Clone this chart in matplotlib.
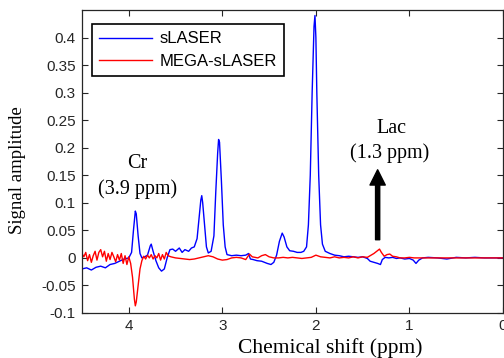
import matplotlib
matplotlib.use("Agg")
import matplotlib.pyplot as plt

# ---- data ----
blue_ppm = [4.50, 4.45, 4.40, 4.35, 4.30, 4.25, 4.20, 4.15, 4.10, 4.05, 4.00, 3.97, 3.95, 3.93, 3.92,
            3.90, 3.88, 3.86, 3.83, 3.80, 3.77, 3.76, 3.74, 3.71, 3.68, 3.65, 3.62, 3.59, 3.56, 3.53,
            3.50, 3.46, 3.43, 3.40, 3.36, 3.33, 3.30, 3.27, 3.25, 3.23, 3.22, 3.21, 3.19, 3.17, 3.15,
            3.12, 3.09, 3.07, 3.05, 3.04, 3.03, 3.01, 2.99, 2.97, 2.95, 2.90, 2.85, 2.80, 2.75, 2.72,
            2.70, 2.67, 2.63, 2.58, 2.52, 2.48, 2.45, 2.42, 2.39, 2.36, 2.34, 2.31, 2.28, 2.24, 2.20,
            2.16, 2.13, 2.10, 2.08, 2.06, 2.04, 2.02, 2.01, 2.00, 1.99, 1.97, 1.95, 1.93, 1.90, 1.85,
            1.80, 1.75, 1.70, 1.65, 1.60, 1.55, 1.50, 1.45, 1.42, 1.38, 1.34, 1.31, 1.29, 1.26, 1.22,
            1.18, 1.14, 1.10, 1.05, 1.00, 0.96, 0.93, 0.90, 0.86, 0.80, 0.70, 0.60, 0.50, 0.40, 0.30,
            0.20, 0.10, 0.00]
blue_val = [-0.020, -0.018, -0.022, -0.017, -0.015, -0.018, -0.012, -0.010, -0.006, -0.002, 0.000, 0.010, 0.050, 0.085, 0.080,
            0.040, 0.008, 0.000, 0.002, 0.005, 0.022, 0.025, 0.012, -0.005, -0.018, -0.024, -0.020, 0.000, 0.015, 0.016,
            0.012, 0.018, 0.010, 0.015, 0.012, 0.018, 0.020, 0.035, 0.070, 0.105, 0.113, 0.100, 0.060, 0.020, 0.009,
            0.012, 0.040, 0.120, 0.190, 0.215, 0.210, 0.140, 0.060, 0.020, 0.006, 0.004, 0.005, 0.004, 0.005, 0.008,
            -0.002, -0.003, -0.005, -0.006, -0.010, -0.012, -0.008, 0.005, 0.030, 0.045, 0.038, 0.020, 0.013, 0.012, 0.010,
            0.010, 0.012, 0.020, 0.060, 0.150, 0.300, 0.420, 0.440, 0.400, 0.300, 0.150, 0.060, 0.025, 0.012, 0.008,
            0.005, 0.004, 0.002, 0.003, 0.002, 0.001, 0.002, -0.001, -0.006, -0.008, -0.010, -0.012, -0.003, 0.001, 0.000,
            0.001, -0.001, 0.000, -0.002, -0.001, -0.004, -0.010, -0.004, 0.000, 0.001, 0.000, -0.002, 0.001, 0.000, 0.001,
            0.000, 0.000, 0.000]

red_ppm = [4.50, 4.48, 4.46, 4.44, 4.42, 4.40, 4.38, 4.36, 4.34, 4.32, 4.30, 4.28, 4.26, 4.24, 4.22,
           4.20, 4.18, 4.16, 4.14, 4.12, 4.10, 4.08, 4.06, 4.04, 4.02, 4.00, 3.98, 3.96, 3.94, 3.93,
           3.92, 3.90, 3.88, 3.86, 3.84, 3.82, 3.80, 3.78, 3.76, 3.74, 3.72, 3.70, 3.68, 3.66, 3.64,
           3.62, 3.60, 3.58, 3.55, 3.50, 3.45, 3.40, 3.35, 3.30, 3.25, 3.20, 3.15, 3.10, 3.05, 3.00,
           2.95, 2.90, 2.85, 2.80, 2.75, 2.71, 2.68, 2.62, 2.58, 2.54, 2.50, 2.45, 2.40, 2.35, 2.30,
           2.25, 2.20, 2.15, 2.10, 2.05, 2.00, 1.95, 1.90, 1.85, 1.80, 1.75, 1.70, 1.65, 1.60, 1.55,
           1.50, 1.45, 1.42, 1.38, 1.35, 1.32, 1.30, 1.27, 1.24, 1.21, 1.18, 1.14, 1.10, 1.05, 1.00,
           0.95, 0.90, 0.80, 0.70, 0.60, 0.50, 0.40, 0.30, 0.20, 0.10, 0.00]
red_val = [0.008, 0.002, 0.010, -0.005, 0.006, -0.008, 0.004, 0.012, -0.004, 0.010, 0.015, 0.002, 0.012, -0.006, 0.008,
           -0.003, 0.010, 0.002, -0.007, 0.006, -0.004, 0.008, -0.010, 0.004, -0.012, 0.002, -0.010, -0.035, -0.075, -0.087,
           -0.080, -0.050, -0.020, -0.005, 0.003, -0.002, 0.005, 0.000, 0.006, -0.002, 0.004, 0.000, 0.008, -0.004, 0.006,
           -0.002, 0.010, 0.004, 0.002, 0.000, -0.001, -0.002, -0.003, -0.002, 0.000, 0.002, 0.004, 0.002, -0.002, -0.004,
           -0.003, 0.000, 0.001, 0.000, -0.003, 0.007, 0.002, 0.000, 0.004, 0.006, 0.002, 0.000, 0.000, 0.001, 0.000,
           0.001, 0.000, -0.001, 0.000, 0.001, 0.005, 0.002, 0.001, 0.000, 0.002, 0.000, 0.001, 0.000, 0.002, 0.000,
           0.002, 0.001, 0.004, 0.008, 0.012, 0.016, 0.010, 0.003, 0.006, 0.007, 0.003, 0.002, 0.000, 0.000, 0.001,
           0.000, 0.000, 0.000, 0.000, 0.000, 0.000, 0.000, 0.000, 0.000, 0.000, 0.000]

series_labels = ["sLASER", "MEGA-sLASER"]
x_ticks = [4, 3, 2, 1, 0]
x_ticklabels = ["4", "3", "2", "1", "0"]
y_ticks = [-0.1, -0.05, 0, 0.05, 0.1, 0.15, 0.2, 0.25, 0.3, 0.35, 0.4]
y_ticklabels = ["-0.1", "-0.05", "0", "0.05", "0.1", "0.15", "0.2", "0.25", "0.3", "0.35", "0.4"]

fig = plt.figure(figsize=(5.04, 3.58), dpi=100)
ax = fig.add_axes([82/504, 1 - 313/358, 421/504, 303/358])

ax.plot(blue_ppm, blue_val, color="#0000ff", lw=1.0, label=series_labels[0])
ax.plot(red_ppm, red_val, color="#ff0000", lw=1.0, label=series_labels[1])

ax.set_xlim(4.5, 0)
ax.set_ylim(-0.1, 0.45)
ax.set_xticks(x_ticks)
ax.set_xticklabels(x_ticklabels)
ax.set_yticks(y_ticks)
ax.set_yticklabels(y_ticklabels)
ax.tick_params(direction="in", top=True, right=True, length=4, width=0.8,
               labelsize=11, pad=4.5, colors="#262626")
for lab in ax.get_xticklabels() + ax.get_yticklabels():
    lab.set_fontfamily("Liberation Sans")
for s in ax.spines.values():
    s.set_color("#262626")
    s.set_linewidth(0.9)

ax.set_xlabel("Chemical shift (ppm)", family="Liberation Serif", fontsize=15.5)
ax.xaxis.set_label_coords(0.589, -0.084)
ax.set_ylabel("Signal amplitude", family="Liberation Serif", fontsize=13.5)
ax.yaxis.set_label_coords(-0.133, 0.472)

leg = ax.legend(loc="upper left", bbox_to_anchor=(0.015, 0.965), prop={"family": "Liberation Sans", "size": 12},
                handlelength=3.2, handletextpad=0.4, borderpad=0.45, labelspacing=0.45,
                fancybox=False, framealpha=1, edgecolor="black", borderaxespad=0.2)
leg.get_frame().set_linewidth(1.2)

ax.text(3.91, 0.171, "Cr", family="Liberation Serif", fontsize=14.5, ha="center", va="center")
ax.text(3.91, 0.125, "(3.9 ppm)", family="Liberation Serif", fontsize=14.5, ha="center", va="center")
ax.text(1.19, 0.235, "Lac", family="Liberation Serif", fontsize=14.5, ha="center", va="center")
ax.text(1.21, 0.19, "(1.3 ppm)", family="Liberation Serif", fontsize=14.5, ha="center", va="center")
ax.annotate("", xy=(1.34, 0.16), xytext=(1.34, 0.033),
            arrowprops=dict(facecolor="black", edgecolor="black", width=3, headwidth=11, headlength=11))

fig.savefig("out.png", dpi=100)
